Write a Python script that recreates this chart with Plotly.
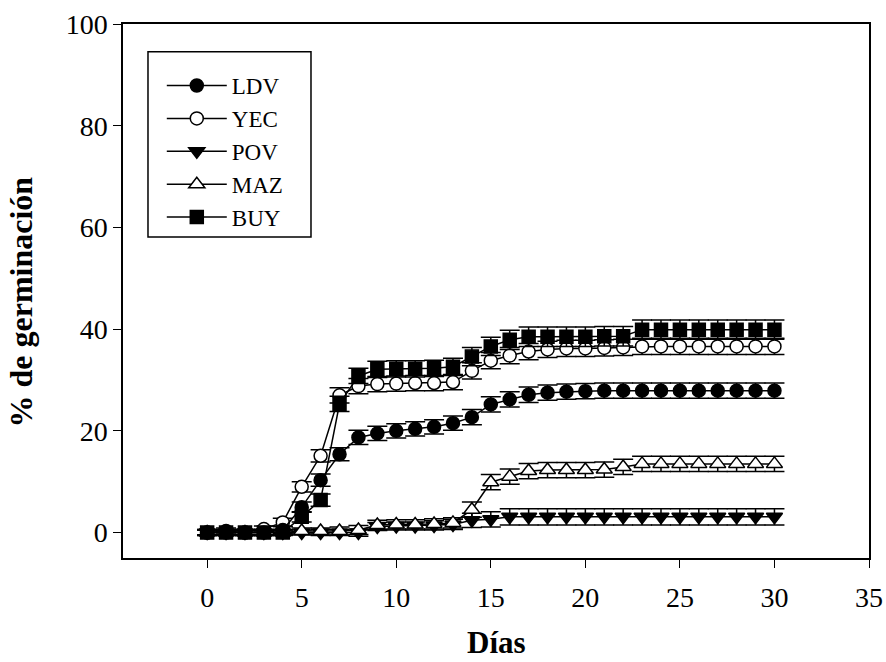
import plotly.graph_objects as go

# Days of observation
dias = list(range(0, 31))

# Cumulative germination (%) per provenance
ldv = [0, 0.3, 0, 0, 0.5, 5.0, 10.3, 15.4, 18.7, 19.5, 20.0, 20.4, 20.8, 21.5, 22.7,
       25.2, 26.2, 27.1, 27.5, 27.7, 27.8, 27.9, 27.9, 27.9, 27.9, 27.9, 27.9, 27.9, 27.9, 27.9, 27.9]
yec = [0, 0, 0, 0.7, 2.0, 9.0, 15.1, 27.0, 28.8, 29.2, 29.3, 29.4, 29.4, 29.6, 31.8,
       33.8, 34.8, 35.6, 36.0, 36.2, 36.2, 36.3, 36.4, 36.6, 36.6, 36.6, 36.6, 36.6, 36.6, 36.6, 36.6]
pov = [0, 0, 0, 0, 0, 0, 0, 0, 0, 1.2, 1.3, 1.3, 1.4, 1.6, 2.4,
       2.6, 3.1, 3.1, 3.1, 3.1, 3.1, 3.1, 3.1, 3.1, 3.1, 3.1, 3.1, 3.1, 3.1, 3.1, 3.1]
maz = [0, 0, 0, 0, 0, 0.3, 0.3, 0.3, 0.5, 1.5, 1.6, 1.6, 1.7, 1.9, 4.5,
       9.9, 11.0, 12.1, 12.3, 12.3, 12.3, 12.4, 12.9, 13.5, 13.5, 13.5, 13.5, 13.5, 13.5, 13.5, 13.5]
buy = [0, 0, 0, 0, 0, 3.1, 6.4, 25.3, 30.8, 32.1, 32.2, 32.2, 32.3, 32.6, 34.6,
       36.6, 37.9, 38.5, 38.5, 38.5, 38.5, 38.6, 38.6, 39.9, 39.9, 39.9, 39.9, 39.9, 39.9, 39.9, 39.9]

# Standard errors
err_ldv = [0.6, 0.6, 0.6, 0.6, 0.7, 1.0, 1.2, 1.3, 1.4, 1.4, 1.4, 1.4, 1.4, 1.4, 1.5,
           1.5, 1.5, 1.5, 1.5, 1.5, 1.5, 1.5, 1.5, 1.5, 1.5, 1.5, 1.5, 1.5, 1.5, 1.5, 1.5]
err_yec = [0.5, 0.5, 0.5, 0.6, 0.8, 1.0, 1.2, 1.5, 1.5, 1.5, 1.5, 1.5, 1.5, 1.5, 1.6,
           1.6, 1.6, 1.6, 1.6, 1.6, 1.6, 1.6, 1.6, 1.6, 1.6, 1.6, 1.6, 1.6, 1.6, 1.6, 1.6]
err_pov = [0.5, 0.5, 0.5, 0.5, 0.5, 0.5, 0.6, 0.6, 0.7, 0.8, 0.8, 0.8, 0.9, 1.0, 1.4,
           1.5, 1.6, 1.6, 1.6, 1.6, 1.6, 1.6, 1.6, 1.6, 1.6, 1.6, 1.6, 1.6, 1.6, 1.6, 1.6]
err_maz = [0.5, 0.5, 0.5, 0.5, 0.5, 0.6, 0.6, 0.8, 0.9, 0.9, 0.9, 0.9, 1.0, 1.0, 1.5,
           1.5, 1.5, 1.5, 1.5, 1.5, 1.5, 1.5, 1.5, 1.5, 1.5, 1.5, 1.5, 1.5, 1.5, 1.5, 1.5]
err_buy = [0.6, 0.6, 0.6, 0.6, 0.6, 1.0, 1.2, 1.5, 1.5, 1.6, 1.6, 1.6, 1.6, 1.7, 1.8,
           1.8, 1.9, 1.9, 1.9, 1.9, 1.9, 1.9, 1.9, 1.9, 1.9, 1.9, 1.9, 1.9, 1.9, 1.9, 1.9]

x_ticks = [0, 5, 10, 15, 20, 25, 30, 35]
y_ticks = [0, 20, 40, 60, 80, 100]

FONT = "Liberation Serif, Times New Roman, serif"

# (name, values, errors, symbol, fill, legend rank), listed in drawing order
series = [
    ("POV", pov, err_pov, "triangle-down", "black", 3),
    ("MAZ", maz, err_maz, "triangle-up", "white", 4),
    ("YEC", yec, err_yec, "circle", "white", 2),
    ("BUY", buy, err_buy, "square", "black", 5),
    ("LDV", ldv, err_ldv, "circle", "black", 1),
]

fig = go.Figure()
for name, vals, errs, sym, fill, rank in series:
    size = 13 if sym in ("circle", "square") else 14
    fig.add_trace(go.Scatter(
        x=dias, y=vals, name=name, mode="lines+markers",
        legendrank=rank,
        line=dict(color="black", width=1.5),
        marker=dict(symbol=sym, size=size, color=fill,
                    line=dict(color="black", width=1.5)),
        error_y=dict(type="data", array=errs, visible=True,
                     color="black", thickness=1.5, width=10),
    ))

# Frame around the legend
fig.add_shape(type="rect", xref="paper", yref="paper",
              x0=0.0335, x1=0.252, y0=0.601, y1=0.948,
              line=dict(color="black", width=1.5), fillcolor="rgba(0,0,0,0)")

# Axis titles
fig.add_annotation(text="<b>Días</b>", xref="paper", yref="paper",
                   x=0.5, y=-0.159, xanchor="center", yanchor="middle",
                   showarrow=False, font=dict(family=FONT, size=31, color="black"))
fig.add_annotation(text="<b>% de germinación</b>", xref="paper", yref="paper",
                   x=-0.137, y=0.48, xanchor="center", yanchor="middle", textangle=-90,
                   showarrow=False, font=dict(family=FONT, size=32, color="black"))

fig.update_layout(
    width=886, height=662,
    margin=dict(l=123, r=17, t=24, b=104),
    paper_bgcolor="white", plot_bgcolor="white",
    font=dict(family=FONT, size=24, color="black"),
    showlegend=True,
    legend=dict(
        x=0.052, y=0.925, xanchor="left", yanchor="top",
        borderwidth=0, bgcolor="rgba(0,0,0,0)",
        font=dict(family=FONT, size=23, color="black"),
        tracegroupgap=0, itemwidth=60,
    ),
    xaxis=dict(
        range=[-4.45, 35], tickvals=x_ticks, ticktext=[str(v) for v in x_ticks],
        showgrid=False, zeroline=False, automargin=False,
        showline=True, linecolor="black", linewidth=1.5, mirror=True,
        ticks="outside", ticklen=8, tickwidth=1.2, tickcolor="black",
        ticklabelstandoff=6,
        tickfont=dict(family=FONT, size=28),
    ),
    yaxis=dict(
        range=[-5, 100], tickvals=y_ticks, ticktext=[str(v) for v in y_ticks],
        showgrid=False, zeroline=False, automargin=False,
        showline=True, linecolor="black", linewidth=1.5, mirror=True,
        ticks="outside", ticklen=8, tickwidth=1.2, tickcolor="black",
        tickfont=dict(family=FONT, size=28),
    ),
)

fig.write_html("out.html")
